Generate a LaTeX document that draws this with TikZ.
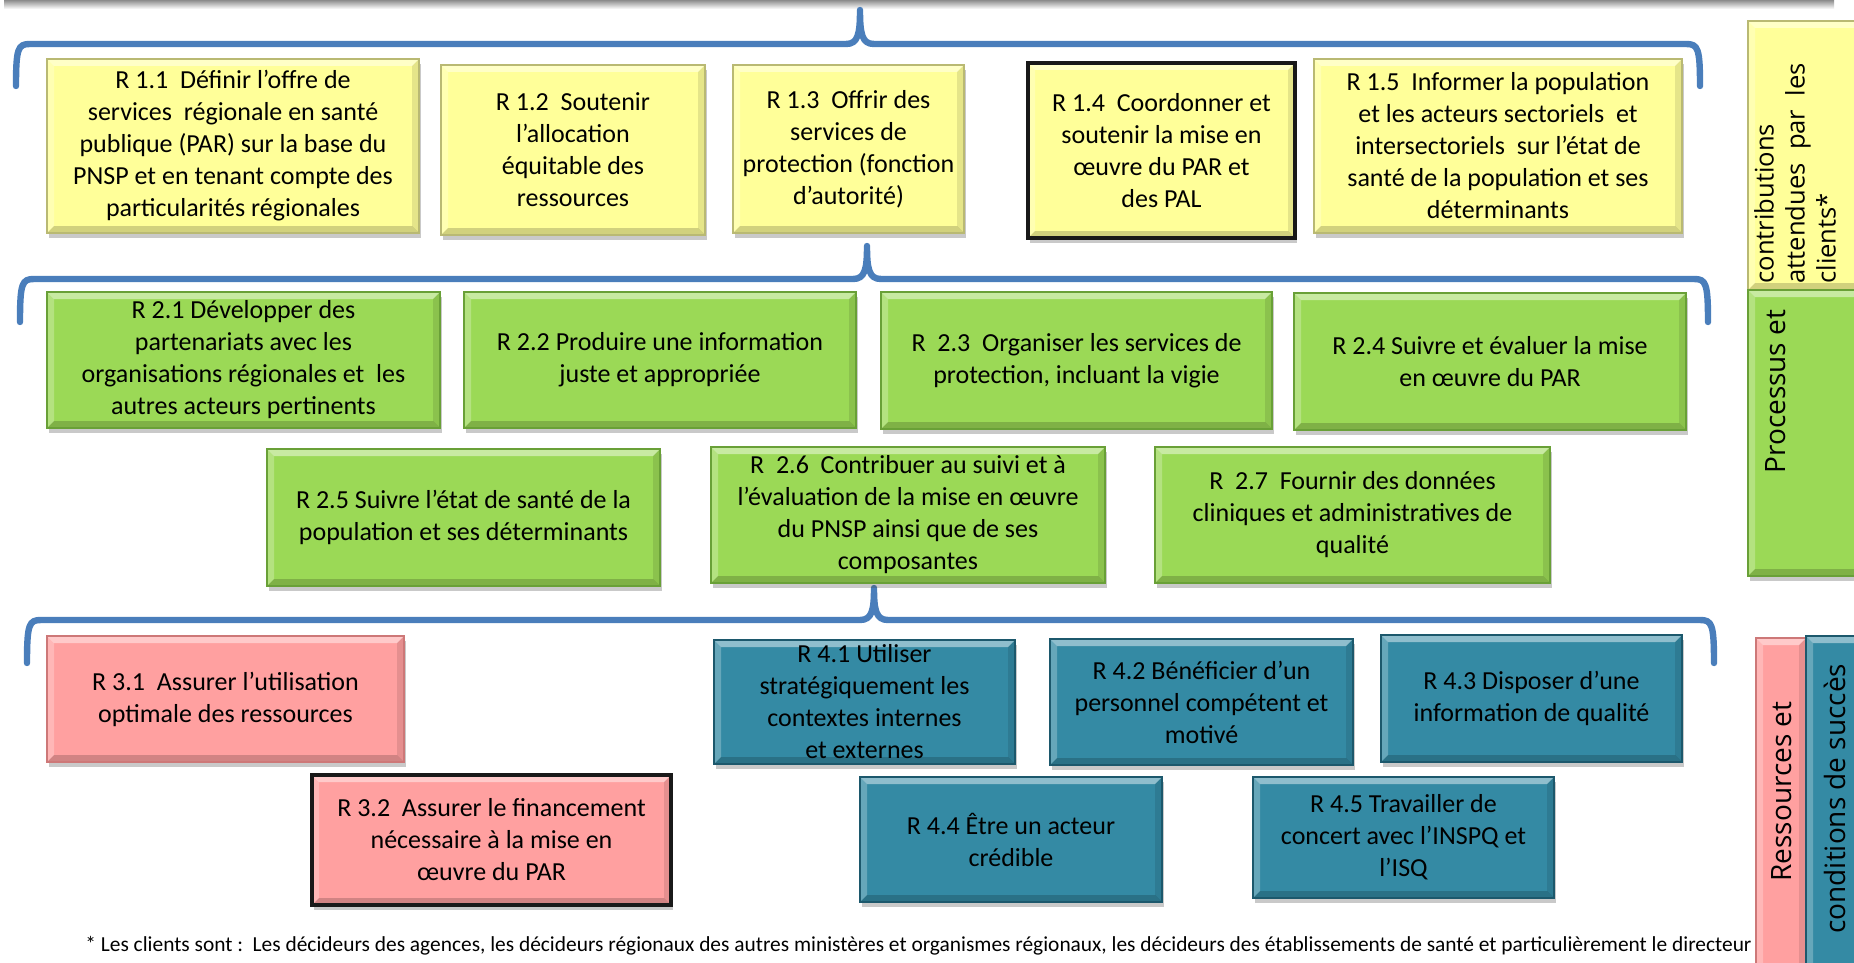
\documentclass[tikz,border=0pt]{standalone}
\usepackage{fontspec}
\setmainfont{Carlito}
\newfontfamily\sidefont{Open Sans}
\usetikzlibrary{shadows}
\definecolor{yel}{RGB}{255,255,153}
\definecolor{yelb}{RGB}{185,185,115}
\definecolor{grn}{RGB}{155,217,86}
\definecolor{grnb}{RGB}{105,160,55}
\definecolor{pnk}{RGB}{255,160,160}
\definecolor{pnkb}{RGB}{205,120,120}
\definecolor{blu}{RGB}{52,138,164}
\definecolor{blub}{RGB}{28,88,108}
\definecolor{brc}{RGB}{74,126,187}
\newcommand\bevelfill{%
  \fill[white,opacity=.45] (path picture bounding box.north west) -- (path picture bounding box.north east) -- ([shift={(-3.5pt,-3.5pt)}]path picture bounding box.north east) -- ([shift={(3.5pt,-3.5pt)}]path picture bounding box.north west) -- cycle;
  \fill[white,opacity=.25] (path picture bounding box.north west) -- ([shift={(3.5pt,-3.5pt)}]path picture bounding box.north west) -- ([shift={(3.5pt,3.5pt)}]path picture bounding box.south west) -- (path picture bounding box.south west) -- cycle;
  \fill[black,opacity=.18] (path picture bounding box.south west) -- (path picture bounding box.south east) -- ([shift={(-3.5pt,3.5pt)}]path picture bounding box.south east) -- ([shift={(3.5pt,3.5pt)}]path picture bounding box.south west) -- cycle;
  \fill[black,opacity=.10] (path picture bounding box.north east) -- ([shift={(-3.5pt,-3.5pt)}]path picture bounding box.north east) -- ([shift={(-3.5pt,3.5pt)}]path picture bounding box.south east) -- (path picture bounding box.south east) -- cycle;
}
\newcommand\rbox[7]{%
  \node[#6, minimum width={(#4-#2)*0.5pt}, minimum height={(#5-#3)*0.5pt}] (#1) at ({(#2+#4)/2},{(#3+#5)/2}) {#7};}
\tikzset{
  rbase/.style={draw, line width=0.6pt, inner sep=0pt, align=center,
    font=\fontsize{13}{16}\selectfont,
    drop shadow={shadow xshift=1pt, shadow yshift=-2.5pt, opacity=0.3, fill=black!70},
    path picture={\bevelfill}},
  ybox/.style={rbase, fill=yel, draw=yelb},
  gbox/.style={rbase, fill=grn, draw=grnb},
  pbox/.style={rbase, fill=pnk, draw=pnkb},
  bbox/.style={rbase, fill=blu, draw=blub},
  heavy/.style={line width=2.2pt, draw=black!90},
  brace/.style={draw=brc, line width=3.2pt, line cap=round, line join=round},
  sidetext/.style={rotate=90, anchor=west, inner sep=0pt, align=left,
    font=\sidefont\fontsize{12.8}{15.5}\selectfont},
  bigside/.style={sidetext, font=\sidefont\fontsize{14}{16}\selectfont},
}
\begin{document}
\begin{tikzpicture}[x=0.5pt, y=-0.5pt]
\useasboundingbox (0,0) rectangle (1854,963);
% cut-off box shadow at top
\shade[top color=black!45, bottom color=white] (4,0) rectangle (1834,9);

% braces
\coordinate (b1l) at (16,86);  \coordinate (b1t) at (860,10);  \coordinate (b1r) at (1700,86);
\draw[brace] (b1l) .. controls (16,48) and (18,44) .. (30,44) -- (846,44)
  .. controls (858,44) and (860,34) .. (b1t)
  .. controls (860,34) and (862,44) .. (874,44) -- (1686,44)
  .. controls (1698,44) and (1700,48) .. (b1r);
\coordinate (b2l) at (20,322);  \coordinate (b2t) at (867,246);  \coordinate (b2r) at (1708,322);
\draw[brace] (b2l) .. controls (20,283) and (22,279) .. (34,279) -- (853,279)
  .. controls (865,279) and (867,269) .. (b2t)
  .. controls (867,269) and (869,279) .. (881,279) -- (1694,279)
  .. controls (1706,279) and (1708,283) .. (b2r);
\coordinate (b3l) at (27,663);  \coordinate (b3t) at (874,588);  \coordinate (b3r) at (1714,663);
\draw[brace] (b3l) .. controls (27,624) and (29,620) .. (41,620) -- (860,620)
  .. controls (872,620) and (874,610) .. (b3t)
  .. controls (874,610) and (876,620) .. (888,620) -- (1700,620)
  .. controls (1712,620) and (1714,624) .. (b3r);

% row 1
\rbox{r11}{47}{59}{419}{233}{ybox}{R 1.1\ \ Définir l’offre de\\services\ \ régionale en santé\\publique (PAR) sur la base du\\PNSP et en tenant compte des\\particularités régionales}
\rbox{r12}{441}{65}{705}{235}{ybox}{R 1.2\ \ Soutenir\\l’allocation\\équitable des\\ressources}
\rbox{r13}{733}{65}{964}{233}{ybox}{R 1.3\ \ Offrir des\\services de\\protection (fonction\\d’autorité)}
\rbox{r14}{1028}{63}{1295}{238}{ybox,heavy}{R 1.4\ \ Coordonner et\\soutenir la mise en\\œuvre du PAR et\\des PAL}
\rbox{r15}{1314}{59}{1682}{233}{ybox}{R 1.5\ \ Informer la population\\et les acteurs sectoriels\ \ et\\intersectoriels\ \ sur l’état de\\santé de la population et ses\\déterminants}

% row 2
\rbox{r21}{47}{292}{440}{428}{gbox}{R 2.1 Développer des\\partenariats avec les\\organisations régionales et\ \ les\\autres acteurs pertinents}
\rbox{r22}{464}{292}{856}{428}{gbox}{R 2.2 Produire une information\\juste et appropriée}
\rbox{r23}{881}{292}{1272}{429}{gbox}{R\ \ 2.3\ \ Organiser les services de\\protection, incluant la vigie}
\rbox{r24}{1294}{293}{1686}{430}{gbox}{R 2.4 Suivre et évaluer la mise\\en œuvre du PAR}
\rbox{r25}{267}{449}{660}{586}{gbox}{R 2.5 Suivre l’état de santé de la\\population et ses déterminants}
\rbox{r26}{711}{447}{1105}{583}{gbox}{R\ \ 2.6\ \ Contribuer au suivi et à\\l’évaluation de la mise en œuvre\\du PNSP ainsi que de ses\\composantes}
\rbox{r27}{1155}{447}{1550}{583}{gbox}{R\ \ 2.7\ \ Fournir des données\\cliniques et administratives de\\qualité}

% row 3
\rbox{r31}{47}{636}{404}{762}{pbox}{R 3.1\ \ Assurer l’utilisation\\optimale des ressources}
\rbox{r32}{312}{775}{671}{905}{pbox,heavy}{R 3.2\ \ Assurer le financement\\nécessaire à la mise en\\œuvre du PAR}
\rbox{r41}{714}{640}{1015}{764}{bbox}{R 4.1 Utiliser\\stratégiquement les\\contextes internes\\et externes}
\rbox{r42}{1050}{639}{1353}{765}{bbox}{R 4.2 Bénéficier d’un\\personnel compétent et\\motivé}
\rbox{r43}{1381}{635}{1682}{762}{bbox}{R 4.3 Disposer d’une\\information de qualité}
\rbox{r44}{860}{777}{1162}{902}{bbox}{R 4.4 Être un acteur\\crédible}
\rbox{r45}{1253}{777}{1554}{898}{bbox}{R 4.5 Travailler de\\concert avec l’INSPQ et\\l’ISQ}

% side bars
\rbox{sy}{1748}{21}{1862}{290}{ybox}{}
\rbox{sg}{1748}{290}{1862}{576}{gbox}{}
\rbox{sp}{1756}{638}{1806}{975}{pbox}{}
\rbox{sb}{1806}{636}{1862}{975}{bbox}{}
\node[sidetext] (tsy) at (1795,284) {contributions\\attendues\ \ par\ \ les\\clients*};
\node[bigside] (tsg) at (1776,474) {Processus et};
\node[bigside] (tsp) at (1782,882) {Ressources et};
\node[bigside] (tsb) at (1835,934) {conditions de succès};

% footnote
\node[anchor=west, inner sep=0pt, font=\fontsize{10.7}{12}\selectfont] (note) at (85,946)
  {* Les clients sont :\ \ Les décideurs des agences, les décideurs régionaux des autres ministères et organismes régionaux, les décideurs des établissements de santé et particulièrement le directeur};
\end{tikzpicture}
\end{document}
